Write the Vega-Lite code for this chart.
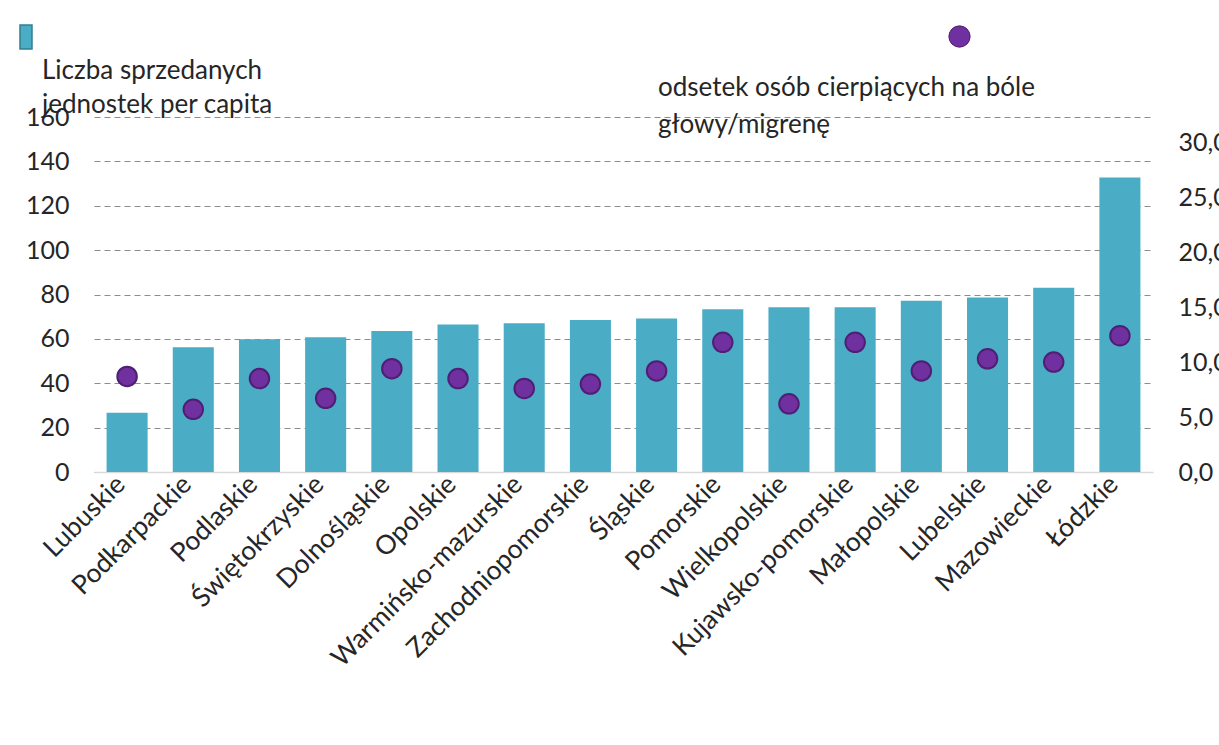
{
  "$schema": "https://vega.github.io/schema/vega-lite/v6.json",
  "width": 1059,
  "height": 355,
  "autosize": {"type": "none"},
  "padding": {"left": 94, "top": 117, "right": 66, "bottom": 273},
  "background": "white",
  "config": {
    "font": "Lato",
    "view": {"stroke": null},
    "legend": {"padding": 0}
  },
  "data": {
    "values": [
      {"region": "Lubuskie", "sprzedaz": 26.7, "odsetek": 8.7},
      {"region": "Podkarpackie", "sprzedaz": 56.2, "odsetek": 5.7},
      {"region": "Podlaskie", "sprzedaz": 59.8, "odsetek": 8.5},
      {"region": "Świętokrzyskie", "sprzedaz": 60.7, "odsetek": 6.7},
      {"region": "Dolnośląskie", "sprzedaz": 63.5, "odsetek": 9.4},
      {"region": "Opolskie", "sprzedaz": 66.5, "odsetek": 8.5},
      {"region": "Warmińsko-mazurskie", "sprzedaz": 67.0, "odsetek": 7.6},
      {"region": "Zachodniopomorskie", "sprzedaz": 68.5, "odsetek": 8.0},
      {"region": "Śląskie", "sprzedaz": 69.2, "odsetek": 9.2},
      {"region": "Pomorskie", "sprzedaz": 73.4, "odsetek": 11.8},
      {"region": "Wielkopolskie", "sprzedaz": 74.2, "odsetek": 6.2},
      {"region": "Kujawsko-pomorskie", "sprzedaz": 74.3, "odsetek": 11.8},
      {"region": "Małopolskie", "sprzedaz": 77.2, "odsetek": 9.2},
      {"region": "Lubelskie", "sprzedaz": 78.7, "odsetek": 10.3},
      {"region": "Mazowieckie", "sprzedaz": 83.0, "odsetek": 10.0},
      {"region": "Łódzkie", "sprzedaz": 132.7, "odsetek": 12.4}
    ]
  },
  "encoding": {
    "x": {
      "field": "region",
      "type": "nominal",
      "sort": null,
      "scale": {"paddingInner": 0.38, "paddingOuter": 0.19},
      "axis": {
        "title": null,
        "labelAngle": -45,
        "labelAlign": "right",
        "labelBaseline": "middle",
        "ticks": false,
        "domainColor": "#d9d9d9",
        "domainWidth": 1.5,
        "labelPadding": 8,
        "labelOffset": -6,
        "labelFontSize": 26.5,
        "labelColor": "#262626",
        "labelLimit": 0,
        "labelOverlap": false
      }
    }
  },
  "layer": [
    {
      "mark": {"type": "bar"},
      "encoding": {
        "y": {
          "field": "sprzedaz",
          "type": "quantitative",
          "scale": {"domain": [0, 160], "nice": false},
          "axis": {
            "title": null,
            "values": [0, 20, 40, 60, 80, 100, 120, 140, 160],
            "grid": true,
            "gridDash": [6, 4],
            "gridColor": "#8c8c8c",
            "domain": false,
            "ticks": false,
            "labelPadding": 25,
            "labelFontSize": 25,
            "labelColor": "#262626"
          }
        },
        "color": {
          "datum": "Liczba sprzedanych jednostek per capita",
          "scale": {"range": ["#4BACC6"]},
          "legend": {
            "orient": "none",
            "legendX": -52,
            "legendY": -93,
            "title": ["Liczba sprzedanych", "jednostek per capita"],
            "titleOrient": "bottom",
            "titleAnchor": "start",
            "titleFontSize": 26,
            "titleFontWeight": "normal",
            "titleColor": "#262626",
            "titleLineHeight": 34,
            "titleLimit": 0,
            "titlePadding": 6,
            "labelExpr": "''",
            "symbolType": "M-0.5,-1H0.5V1H-0.5Z",
            "symbolSize": 576,
            "symbolStrokeColor": "#2F7F94",
            "symbolStrokeWidth": 1.5,
            "symbolOffset": -29
          }
        }
      }
    },
    {
      "mark": {"type": "point", "filled": true, "size": 380, "stroke": "#4F1F73", "strokeWidth": 2, "opacity": 1},
      "encoding": {
        "y": {
          "field": "odsetek",
          "type": "quantitative",
          "scale": {"domain": [0, 32.3], "nice": false},
          "axis": {
            "orient": "right",
            "title": null,
            "values": [0, 5, 10, 15, 20, 25, 30],
            "grid": false,
            "domain": false,
            "ticks": false,
            "labelPadding": 25,
            "labelFontSize": 25,
            "labelColor": "#262626",
            "labelExpr": "replace(format(datum.value, '.1f'), '.', ',')"
          }
        },
        "color": {
          "datum": "odsetek osób cierpiących na bóle głowy/migrenę",
          "scale": {"range": ["#7030A0"]},
          "legend": {
            "orient": "none",
            "legendX": 564,
            "legendY": -92,
            "title": ["odsetek osób cierpiących na bóle", "głowy/migrenę"],
            "titleOrient": "bottom",
            "titleAnchor": "start",
            "titleFontSize": 26,
            "titleFontWeight": "normal",
            "titleColor": "#262626",
            "titleLineHeight": 37,
            "titleLimit": 0,
            "titlePadding": 26,
            "labelExpr": "''",
            "symbolType": "circle",
            "symbolSize": 452,
            "symbolStrokeColor": "#4F1F73",
            "symbolStrokeWidth": 1,
            "symbolOffset": 290
          }
        }
      }
    }
  ],
  "resolve": {"scale": {"y": "independent", "color": "independent"}}
}
